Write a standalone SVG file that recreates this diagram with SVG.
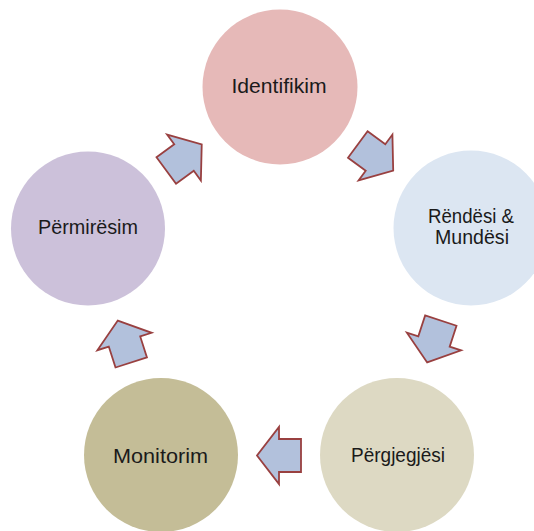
<svg xmlns="http://www.w3.org/2000/svg" width="534" height="531" viewBox="0 0 534 531">
<style>
.lbl{font-family:"Liberation Sans",Arial,sans-serif;font-size:20px;fill:#1a1a1a;text-anchor:middle}
.arr{fill:#B2C1DC;stroke:#994040;stroke-width:1.8;stroke-linejoin:miter}
</style>
<defs>
<polygon id="blk" points="-22,-16.5 0,-16.5 0,-28.5 22,0 0,28.5 0,16.5 -22,16.5"/>
</defs>
<rect width="534" height="531" fill="#ffffff"/>
<g id="identifikim">
<circle cx="280" cy="87" r="77.5" fill="#E6B9B8"/>
<text class="lbl" x="279" y="93" textLength="95" lengthAdjust="spacingAndGlyphs">Identifikim</text>
</g>
<g id="rendesi">
<circle cx="471" cy="228" r="77.5" fill="#DCE6F2"/>
<text class="lbl" x="471" y="223" textLength="86" lengthAdjust="spacingAndGlyphs">Rëndësi &amp;</text>
<text class="lbl" x="472" y="244" textLength="74" lengthAdjust="spacingAndGlyphs">Mundësi</text>
</g>
<g id="pergjegjesi">
<circle cx="397" cy="455" r="77" fill="#DDD9C3"/>
<text class="lbl" x="398" y="462" textLength="94" lengthAdjust="spacingAndGlyphs">Përgjegjësi</text>
</g>
<g id="monitorim">
<circle cx="161" cy="455" r="77" fill="#C4BD97"/>
<text class="lbl" x="160.5" y="463" textLength="95" lengthAdjust="spacingAndGlyphs">Monitorim</text>
</g>
<g id="permiresim">
<circle cx="88" cy="228.5" r="77" fill="#CCC1DA"/>
<text class="lbl" x="88" y="234" textLength="100" lengthAdjust="spacingAndGlyphs">Përmirësim</text>
</g>
<g id="connectors">
<use href="#blk" class="arr" transform="translate(375.5,157.5) rotate(36.4)"/>
<use href="#blk" class="arr" transform="translate(434,341.5) rotate(108.1)"/>
<use href="#blk" class="arr" transform="translate(279,455.5) rotate(180)"/>
<use href="#blk" class="arr" transform="translate(124.5,341.5) rotate(-107.8)"/>
<use href="#blk" class="arr" transform="translate(184,157.5) rotate(-36.3)"/>
</g>
</svg>
